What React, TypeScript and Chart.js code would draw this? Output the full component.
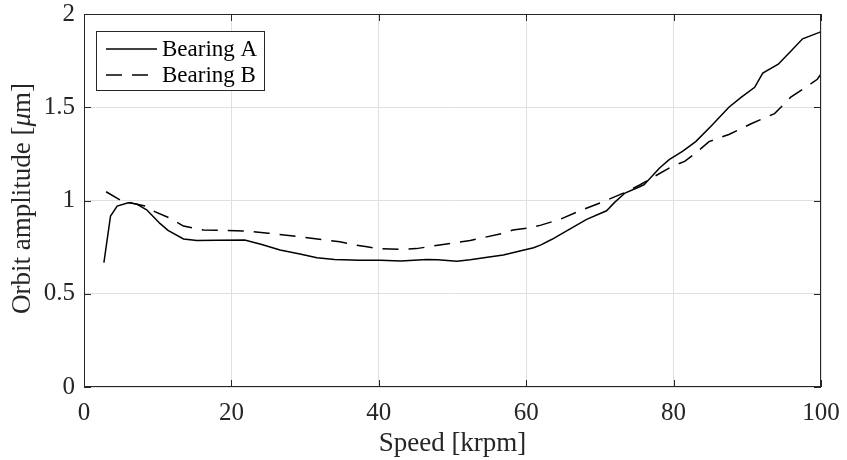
import React, { useEffect, useRef } from "react";
import { Chart, registerables } from "chart.js";

Chart.register(...registerables);

const bearingAX = [2.7, 3.6, 4.5, 6.0, 7.1, 8.5, 10.3, 11.4, 13.5, 15.3, 18, 21.8, 24, 26.6, 29.3, 31.6, 34, 37.4, 40.2, 43, 46.5, 48, 50.6, 52.4, 54.5, 56.9, 59, 61, 62, 63.5, 65.9, 68.2, 70.9, 72, 73.4, 75.4, 76, 78.1, 79.4, 81.2, 83.0, 85.2, 87.5, 89.2, 91.0, 92.1, 94.2, 95.9, 97.5, 99.7, 100];
const bearingAY = [0.667, 0.917, 0.97, 0.988, 0.982, 0.95, 0.877, 0.84, 0.794, 0.785, 0.787, 0.788, 0.765, 0.735, 0.713, 0.693, 0.684, 0.68, 0.68, 0.676, 0.684, 0.682, 0.674, 0.682, 0.694, 0.708, 0.728, 0.747, 0.762, 0.792, 0.847, 0.899, 0.945, 0.99, 1.04, 1.074, 1.085, 1.174, 1.219, 1.263, 1.316, 1.404, 1.5, 1.554, 1.607, 1.683, 1.731, 1.8, 1.867, 1.9, 1.905];

const bearingBX = [3.0, 4.9, 6.7, 8.3, 9.6, 11.7, 13.5, 16.2, 22.1, 25, 28.4, 32.9, 34.7, 36.8, 38.4, 40, 42.9, 45.1, 49.7, 52.4, 53.7, 56.9, 58.2, 60.1, 62, 64.6, 67.3, 70.5, 73.6, 75.4, 77, 79.8, 81.5, 83.0, 84.8, 87.5, 90.6, 93.7, 95.9, 98.6, 99.5, 100];
const bearingBY = [1.047, 1.003, 0.984, 0.97, 0.94, 0.905, 0.863, 0.842, 0.836, 0.825, 0.81, 0.788, 0.779, 0.761, 0.752, 0.742, 0.738, 0.742, 0.77, 0.785, 0.797, 0.824, 0.842, 0.851, 0.868, 0.899, 0.945, 0.994, 1.047, 1.083, 1.12, 1.183, 1.21, 1.254, 1.316, 1.354, 1.413, 1.466, 1.554, 1.625, 1.65, 1.678];

const seriesLabels = ["Bearing A", "Bearing B"];
const xTicks = [0, 20, 40, 60, 80, 100];
const yTicks = [0, 0.5, 1, 1.5, 2];
const xTitle = "Speed [krpm]";
const yTitleParts = ["Orbit amplitude [", "\u03bc", "m]"];

const FONT = '"Liberation Serif", "Times New Roman", serif';
const AXIS_COLOR = "#262626";

const toPoints = (xs: number[], ys: number[]) => xs.map((x, i) => ({ x, y: ys[i] }));

const framePlugin = {
  id: "frame",
  afterDraw(chart: any) {
    const { ctx, chartArea } = chart;
    const { left, right, top, bottom } = chartArea;
    const xs = chart.scales.x;
    const ys = chart.scales.y;
    ctx.save();
    ctx.strokeStyle = AXIS_COLOR;
    ctx.lineWidth = 1;
    ctx.setLineDash([]);
    ctx.strokeRect(Math.round(left) + 0.5, Math.round(top) + 0.5, Math.round(right - left) - 1, Math.round(bottom - top) - 1);
    const tl = 7;
    ctx.beginPath();
    xTicks.forEach((v) => {
      const px = Math.round(xs.getPixelForValue(v)) + 0.5;
      ctx.moveTo(px, bottom);
      ctx.lineTo(px, bottom - tl);
      ctx.moveTo(px, top);
      ctx.lineTo(px, top + tl);
    });
    yTicks.forEach((v) => {
      const py = Math.round(ys.getPixelForValue(v)) + 0.5;
      ctx.moveTo(left, py);
      ctx.lineTo(left + tl, py);
      ctx.moveTo(right, py);
      ctx.lineTo(right - tl, py);
    });
    ctx.stroke();

    // legend
    const lx = 96, ly = 31, lw = 168, lh = 59;
    ctx.fillStyle = "#ffffff";
    ctx.fillRect(lx, ly, lw, lh);
    ctx.strokeStyle = AXIS_COLOR;
    ctx.strokeRect(lx + 0.5, ly + 0.5, lw, lh);
    ctx.font = `23px ${FONT}`;
    ctx.textBaseline = "middle";
    ctx.textAlign = "left";
    chart.data.datasets.forEach((ds: any, i: number) => {
      const rowY = 49 + i * 26;
      ctx.strokeStyle = ds.borderColor;
      ctx.lineWidth = ds.borderWidth;
      ctx.setLineDash(ds.borderDash || []);
      ctx.beginPath();
      ctx.moveTo(106, rowY);
      ctx.lineTo(157, rowY);
      ctx.stroke();
      ctx.setLineDash([]);
      ctx.fillStyle = "#000000";
      ctx.fillText(ds.label, 162, rowY + 1);
    });

    // y title with italic mu
    ctx.fillStyle = AXIS_COLOR;
    const fonts = [`27px ${FONT}`, `italic 27px ${FONT}`, `27px ${FONT}`];
    const widths = yTitleParts.map((t, i) => {
      ctx.font = fonts[i];
      return ctx.measureText(t).width;
    });
    const total = widths.reduce((a, b) => a + b, 0);
    ctx.translate(23, (top + bottom) / 2 - 2);
    ctx.rotate(-Math.PI / 2);
    let cx = -total / 2;
    yTitleParts.forEach((t, i) => {
      ctx.font = fonts[i];
      ctx.fillText(t, cx, 0);
      cx += widths[i];
    });
    ctx.restore();
  },
};

export default function App() {
  const canvasRef = useRef<HTMLCanvasElement | null>(null);

  useEffect(() => {
    document.body.style.margin = "0";
    const canvas = canvasRef.current;
    if (!canvas) return;
    const chart = new Chart(canvas, {
      type: "line",
      data: {
        datasets: [
          {
            label: seriesLabels[0],
            data: toPoints(bearingAX, bearingAY),
            borderColor: "#000000",
            borderWidth: 1.5,
            pointRadius: 0,
            tension: 0,
            fill: false,
          },
          {
            label: seriesLabels[1],
            data: toPoints(bearingBX, bearingBY),
            borderColor: "#000000",
            borderWidth: 1.5,
            borderDash: [16, 10],
            pointRadius: 0,
            tension: 0,
            fill: false,
          },
        ],
      },
      options: {
        responsive: false,
        animation: false,
        layout: { padding: { top: 14, right: 26, left: 0, bottom: 0 } },
        plugins: {
          legend: { display: false },
          tooltip: { enabled: false },
        },
        scales: {
          x: {
            type: "linear",
            min: 0,
            max: 100,
            afterFit: (scale: any) => {
              scale.height = 73;
              scale.paddingLeft = 0;
              scale.paddingRight = 0;
            },
            afterBuildTicks: (scale: any) => {
              scale.ticks = xTicks.map((v) => ({ value: v }));
            },
            ticks: {
              color: AXIS_COLOR,
              font: { family: FONT, size: 25, lineHeight: 1 },
              padding: 14,
              maxRotation: 0,
              callback: (v: any) => String(v),
            },
            grid: { color: "#e0e0e0", drawTicks: false, lineWidth: 1 },
            border: { display: false },
            title: {
              display: true,
              text: xTitle,
              color: AXIS_COLOR,
              font: { family: FONT, size: 27, lineHeight: 1.2 },
              padding: { top: 0, bottom: 0 },
            },
          },
          y: {
            type: "linear",
            min: 0,
            max: 2,
            afterFit: (scale: any) => {
              scale.width = 84;
              scale.paddingTop = 0;
              scale.paddingBottom = 0;
            },
            afterBuildTicks: (scale: any) => {
              scale.ticks = yTicks.map((v) => ({ value: v }));
            },
            ticks: {
              color: AXIS_COLOR,
              font: { family: FONT, size: 25, lineHeight: 1 },
              padding: 9,
              callback: (v: any) => String(v),
            },
            grid: { color: "#e0e0e0", drawTicks: false, lineWidth: 1 },
            border: { display: false },
          },
        },
      },
      plugins: [framePlugin],
    });
    return () => chart.destroy();
  }, []);

  return (
    <div style={{ width: 847, height: 460 }}>
      <canvas ref={canvasRef} width={847} height={460} />
    </div>
  );
}
